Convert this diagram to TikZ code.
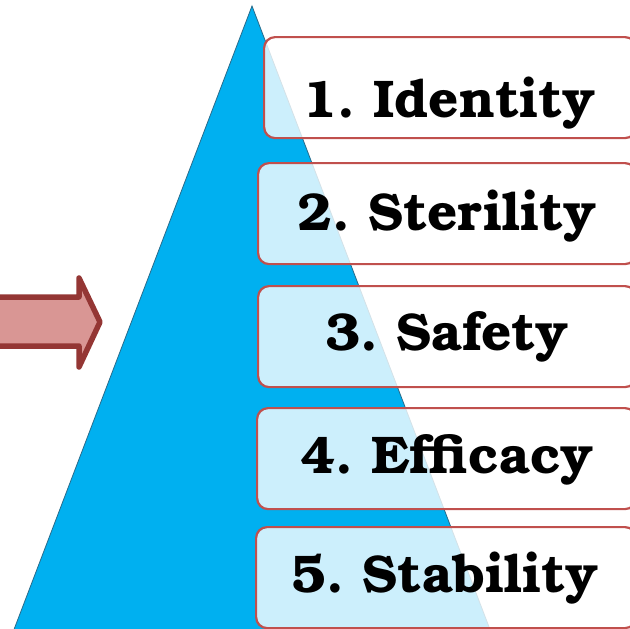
\documentclass[tikz,border=0pt]{standalone}
\usepackage{fontspec}
\newfontfamily\labelfont{texgyrebonum-bold.otf}
\definecolor{pyramidblue}{HTML}{00B0F0}
\definecolor{pyramidedge}{HTML}{2A6B8A}
\definecolor{boxred}{HTML}{C0504D}
\definecolor{arrowfill}{HTML}{D99694}
\definecolor{arrowedge}{HTML}{943634}
\frenchspacing
\begin{document}
\begin{tikzpicture}[x=1pt,y=-1pt,
  tier/.style={draw=boxred, line width=2.2pt, fill=white, fill opacity=0.8,
    rounded corners=11pt, anchor=north west, inner sep=0pt},
  tiertext/.style={anchor=base, inner sep=0pt, text=black,
    font=\labelfont\fontsize{53}{60}\selectfont}]
\useasboundingbox (0,0) rectangle (630,629);
\clip (0,0) rectangle (630,629);

% pyramid
\fill[pyramidblue, draw=pyramidedge, line width=0.8pt]
  (252,6) -- (494,640) -- (10,640) -- cycle;

% tiers
\node[tier, minimum width=372pt, minimum height=101pt] (box1) at (263,36) {};
\node[tier, minimum width=378pt, minimum height=101pt] (box2) at (257,162) {};
\node[tier, minimum width=378pt, minimum height=101pt] (box3) at (257,285) {};
\node[tier, minimum width=379pt, minimum height=101pt] (box4) at (256,407) {};
\node[tier, minimum width=380pt, minimum height=101pt] (box5) at (255,526) {};

\node[tiertext] (lab1) at (449,117) {1. Identity};
\node[tiertext] (lab2) at (447,230) {2. Sterility};
\node[tiertext] (lab3) at (447,350) {3. Safety};
\node[tiertext] (lab4) at (447,473) {4. Efficacy};
\node[tiertext] (lab5) at (445,592) {5. Stability};

% block arrow pointing at the pyramid
\draw[arrowedge, fill=arrowfill, line width=5.5pt, line join=round]
  (-10,297) -- (79,297) -- (79,278) -- (100,322) -- (79,367)
  -- (79,346) -- (-10,346) -- cycle;
\end{tikzpicture}
\end{document}
